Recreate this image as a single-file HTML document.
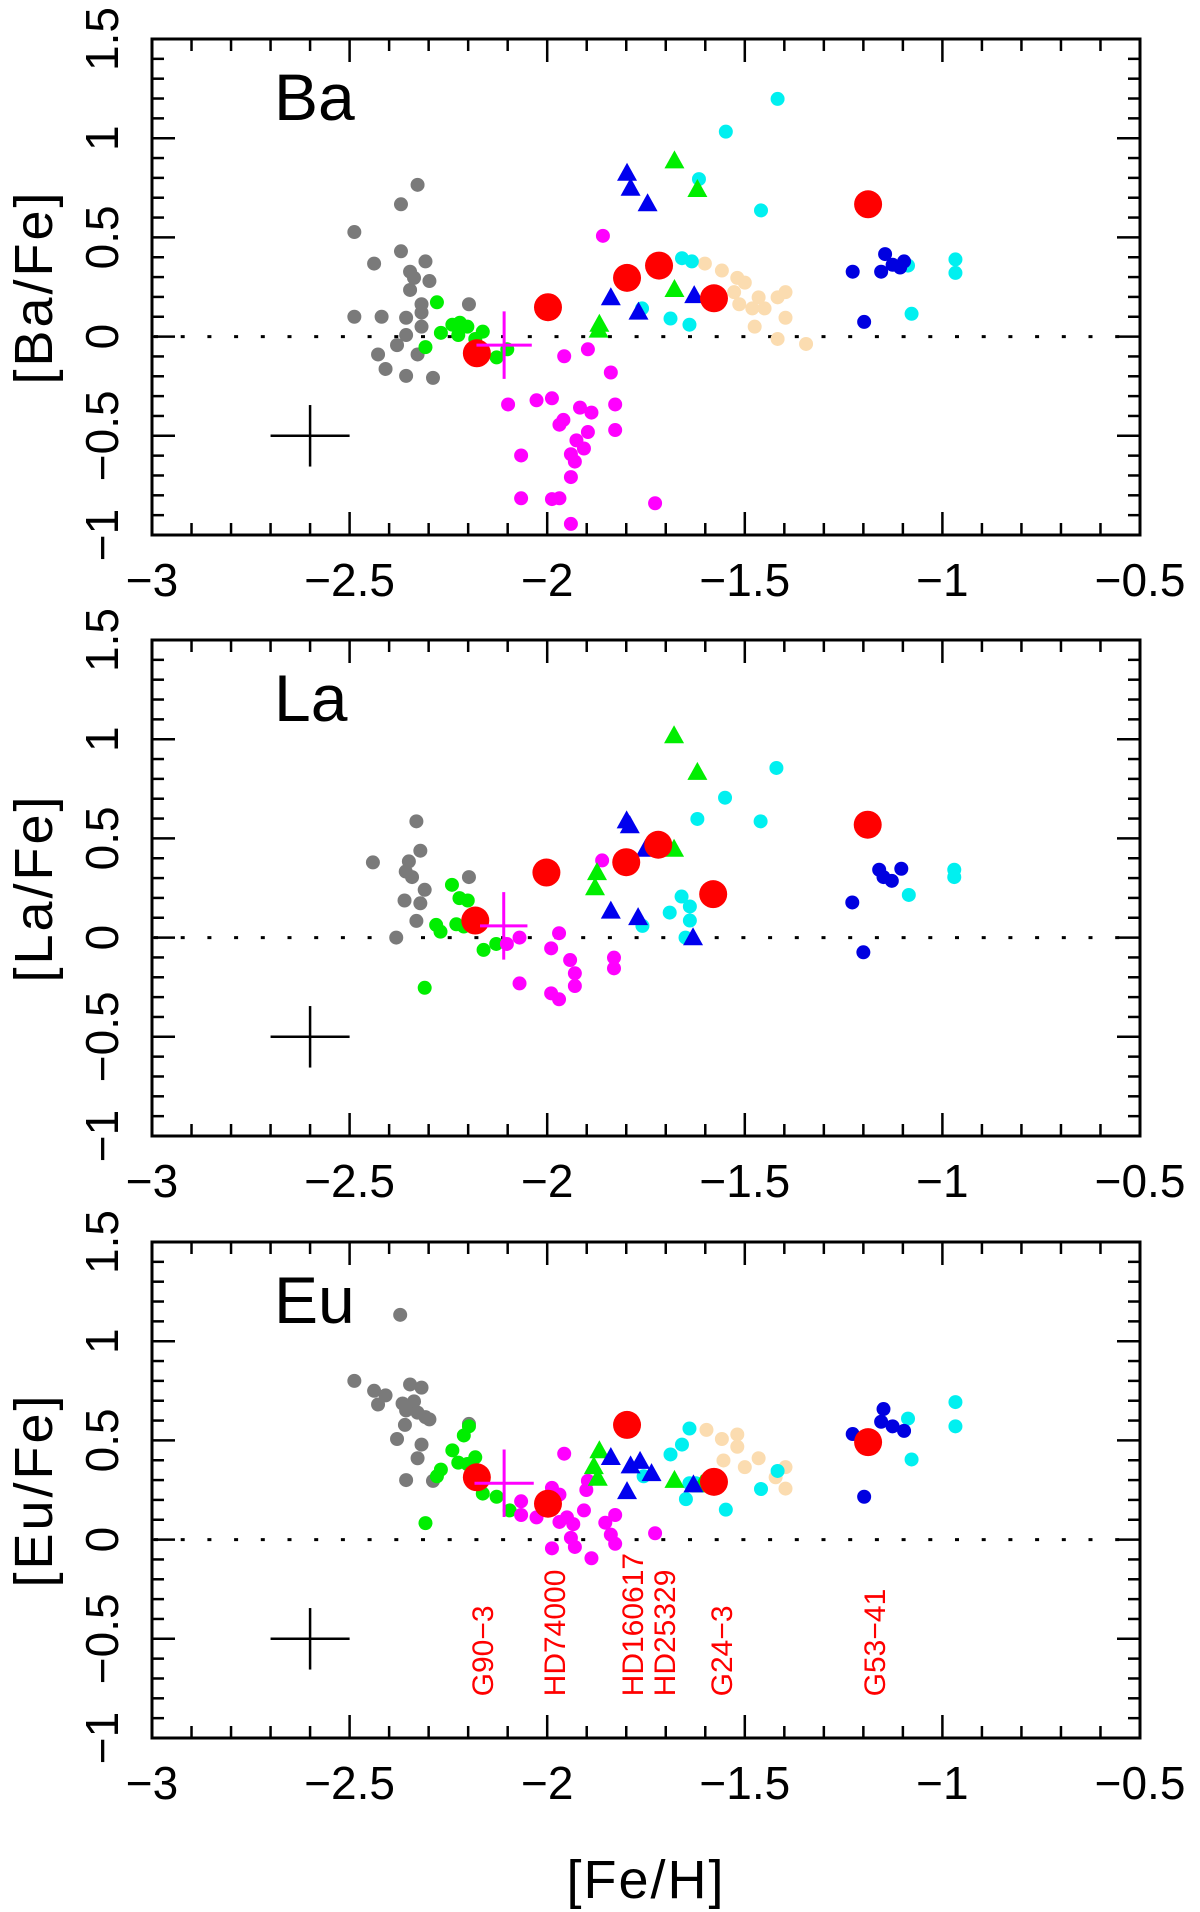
<!DOCTYPE html>
<html><head><meta charset="utf-8"><style>
html,body{margin:0;padding:0;background:#fff;}
svg{display:block;font-family:"Liberation Sans",sans-serif;}
</style></head><body>
<svg id="chart" width="1200" height="1912" viewBox="0 0 1200 1912" xmlns="http://www.w3.org/2000/svg"></svg>
<script>
// ---- Ba panel data ----
const baGrayX=[-2.328,-2.37,-2.488,-2.37,-2.438,-2.308,-2.347,-2.337,-2.298,-2.347,-2.318,-2.198,-2.318,-2.488,-2.419,-2.357,-2.318,-2.357,-2.38,-2.428,-2.328,-2.409,-2.357,-2.289];
const baGrayY=[0.765,0.667,0.527,0.43,0.368,0.379,0.327,0.296,0.28,0.235,0.163,0.163,0.121,0.1,0.1,0.095,0.05,0.008,-0.043,-0.09,-0.09,-0.163,-0.198,-0.208];
const baGreenX=[-2.279,-2.269,-2.24,-2.221,-2.225,-2.202,-2.163,-2.182,-2.308,-2.128,-2.101];
const baGreenY=[0.173,0.019,0.06,0.07,0.008,0.05,0.025,-0.012,-0.053,-0.105,-0.064];
const baMagX=[-1.859,-1.897,-1.957,-1.839,-2.099,-2.027,-1.988,-1.828,-1.917,-1.888,-1.959,-1.969,-1.828,-1.897,-1.926,-1.907,-2.066,-1.94,-1.93,-1.94,-2.066,-1.988,-1.969,-1.727,-1.94];
const baMagY=[0.508,-0.064,-0.099,-0.181,-0.342,-0.321,-0.311,-0.342,-0.358,-0.383,-0.42,-0.444,-0.471,-0.481,-0.523,-0.564,-0.599,-0.593,-0.63,-0.708,-0.815,-0.819,-0.815,-0.84,-0.944];
const baWheatX=[-1.601,-1.558,-1.519,-1.5,-1.527,-1.514,-1.465,-1.481,-1.45,-1.417,-1.397,-1.397,-1.475,-1.417,-1.345];
const baWheatY=[0.368,0.333,0.296,0.272,0.224,0.163,0.198,0.142,0.142,0.198,0.224,0.095,0.05,-0.012,-0.037];
const baCyanX=[-1.417,-1.548,-1.616,-1.459,-1.659,-1.634,-1.76,-1.688,-1.64,-1.087,-1.078,-0.967,-0.967];
const baCyanY=[1.198,1.033,0.794,0.636,0.395,0.379,0.142,0.091,0.06,0.358,0.115,0.389,0.321];
const baNavyX=[-1.227,-1.155,-1.145,-1.126,-1.097,-1.107,-1.198];
const baNavyY=[0.327,0.327,0.416,0.362,0.379,0.348,0.074];
const baBlueTriX=[-1.798,-1.789,-1.746,-1.839,-1.769,-1.628];
const baBlueTriY=[0.821,0.745,0.667,0.193,0.121,0.204];
const baGreenTriX=[-1.678,-1.62,-1.678,-1.868,-1.87];
const baGreenTriY=[0.883,0.739,0.235,0.06,0.03];
const baRedX=[-2.178,-1.998,-1.798,-1.717,-1.578,-1.188];
const baRedY=[-0.084,0.148,0.296,0.358,0.193,0.667];
const baMeanCross=[-2.109,-0.043,0.07,0.17];

// ---- La panel data ----
const laGrayX=[-2.331,-2.321,-2.441,-2.35,-2.358,-2.342,-2.198,-2.31,-2.361,-2.321,-2.331,-2.382];
const laGrayY=[0.586,0.438,0.379,0.384,0.333,0.305,0.305,0.241,0.187,0.173,0.084,0];
const laGreenX=[-2.241,-2.222,-2.201,-2.281,-2.27,-2.23,-2.211,-2.129,-2.161,-2.31];
const laGreenY=[0.266,0.199,0.187,0.064,0.03,0.067,0.056,-0.032,-0.062,-0.253];
const laMagX=[-1.861,-1.97,-2.07,-2.102,-1.99,-1.942,-1.831,-1.831,-1.93,-1.93,-2.07,-1.99,-1.97];
const laMagY=[0.389,0.022,0,-0.032,-0.054,-0.113,-0.101,-0.155,-0.18,-0.244,-0.231,-0.281,-0.311];
const laWheatX=[];
const laWheatY=[];
const laCyanX=[-1.42,-1.55,-1.62,-1.46,-1.66,-1.639,-1.69,-1.639,-1.759,-1.65,-1.085,-0.97,-0.97];
const laCyanY=[0.855,0.705,0.598,0.586,0.207,0.157,0.126,0.086,0.059,0,0.215,0.342,0.305];
const laNavyX=[-1.16,-1.104,-1.149,-1.128,-1.228,-1.2];
const laNavyY=[0.342,0.347,0.305,0.286,0.177,-0.074];
const laBlueTriX=[-1.799,-1.791,-1.751,-1.839,-1.77,-1.631];
const laBlueTriY=[0.586,0.561,0.443,0.131,0.098,-0.003];
const laGreenTriX=[-1.679,-1.62,-1.874,-1.879,-1.679];
const laGreenTriY=[1.015,0.83,0.325,0.249,0.443];
const laRedX=[-2.182,-2.002,-1.8,-1.719,-1.58,-1.189];
const laRedY=[0.086,0.328,0.38,0.468,0.219,0.569];
const laMeanCross=[-2.11,0.059,0.06,0.17];

// ---- Eu panel data ----
const euGrayX=[-2.372,-2.488,-2.438,-2.409,-2.428,-2.347,-2.318,-2.366,-2.337,-2.357,-2.328,-2.308,-2.298,-2.36,-2.198,-2.38,-2.318,-2.328,-2.357,-2.289];
const euGrayY=[1.133,0.8,0.75,0.727,0.681,0.782,0.766,0.686,0.697,0.651,0.64,0.617,0.606,0.578,0.583,0.507,0.479,0.41,0.3,0.296];
const euGreenX=[-2.198,-2.211,-2.24,-2.182,-2.225,-2.202,-2.269,-2.279,-2.163,-2.128,-2.095,-2.308];
const euGreenY=[0.571,0.525,0.45,0.415,0.388,0.381,0.353,0.319,0.232,0.216,0.147,0.083];
const euMagX=[-1.957,-1.988,-1.897,-1.901,-2.066,-2.027,-2.066,-1.969,-1.95,-1.934,-1.907,-1.969,-1.828,-1.853,-1.839,-1.828,-1.727,-1.94,-1.93,-1.988,-1.888];
const euMagY=[0.433,0.261,0.296,0.25,0.193,0.112,0.124,0.227,0.112,0.078,0.147,0.089,0.124,0.085,0.025,-0.021,0.032,0.009,-0.037,-0.044,-0.094];
const euWheatX=[-1.597,-1.558,-1.519,-1.519,-1.554,-1.5,-1.465,-1.397,-1.422,-1.397];
const euWheatY=[0.553,0.507,0.53,0.468,0.399,0.365,0.41,0.365,0.314,0.257];
const euCyanX=[-1.64,-1.659,-1.688,-1.756,-1.64,-1.624,-1.649,-1.548,-1.459,-1.417,-1.087,-1.078,-0.967,-0.967];
const euCyanY=[0.56,0.479,0.429,0.319,0.284,0.284,0.204,0.151,0.255,0.346,0.61,0.404,0.693,0.571];
const euNavyX=[-1.149,-1.155,-1.126,-1.097,-1.227,-1.198];
const euNavyY=[0.658,0.594,0.571,0.548,0.532,0.216];
const euBlueTriX=[-1.839,-1.789,-1.765,-1.736,-1.798,-1.63];
const euBlueTriY=[0.411,0.369,0.392,0.33,0.239,0.273];
const euGreenTriX=[-1.868,-1.882,-1.872,-1.678,-1.61];
const euGreenTriY=[0.445,0.365,0.307,0.296,0.273];
const euRedX=[-2.178,-1.998,-1.798,-1.578,-1.188];
const euRedY=[0.314,0.181,0.578,0.291,0.491];
const euMeanCross=[-2.109,0.284,0.075,0.17];
const starNames=["G90\u22123","HD74000","HD160617","HD25329","G24\u22123","G53\u221241"];
const starNameX=[-2.137,-1.955,-1.758,-1.677,-1.532,-1.145];
const starNameBottomY=-0.79;

const xTicks=[-3,-2.5,-2,-1.5,-1,-0.5];
const xTickLabels=["\u22123","\u22122.5","\u22122","\u22121.5","\u22121","\u22120.5"];
const yTicks=[1.5,1,0.5,0,-0.5,-1];
const yTickLabels=["1.5","1","0.5","0","\u22120.5","\u22121"];

const NS="http://www.w3.org/2000/svg";
const svg=document.getElementById('chart');
const L=152,R=1140,H=496;
const XMIN=-3,XMAX=-0.5,YMIN=-1,YMAX=1.5;
function sx(v){return L+(v-XMIN)/(XMAX-XMIN)*(R-L);}
function mk(tag,attrs,parent){const e=document.createElementNS(NS,tag);for(const k in attrs)e.setAttribute(k,attrs[k]);(parent||svg).appendChild(e);return e;}

function drawPanel(top,key,label,yTitle,d){
  const sy=v=>top+(YMAX-v)/(YMAX-YMIN)*H;
  const g=mk('g',{});
  
  
  // ticks
  const tg=mk('g',{stroke:'#000','stroke-width':2.5},g);
  
  
  for(let i=0;i<=25;i++){
    const v=XMIN+i*0.1, x=sx(v), len=(i%5===0)?23:12;
    mk('line',{x1:x,x2:x,y1:top+H,y2:top+H-len},tg);
    mk('line',{x1:x,x2:x,y1:top,y2:top+len},tg);
  }
  for(let i=0;i<=25;i++){
    const v=YMIN+i*0.1, y=sy(v), len=(i%5===0)?23:12;
    mk('line',{x1:L,x2:L+len,y1:y,y2:y},tg);
    mk('line',{x1:R,x2:R-len,y1:y,y2:y},tg);
  }
  // zero line
  const z=mk('line',{x1:L+2,x2:R,y1:sy(0),y2:sy(0),stroke:'#000','stroke-width':3,'stroke-dasharray':'4 22.7'},g);
  
  
  // tick labels
  xTicks.forEach((v,i)=>{
    const t=mk('text',{x:sx(v),y:top+H+61,'text-anchor':'middle','font-size':46,fill:'#000'},g);
    t.textContent=xTickLabels[i];
    
    
  });
  yTicks.forEach((v,i)=>{
    const t=mk('text',{transform:`translate(118,${sy(v)}) rotate(-90)`,'text-anchor':'middle','font-size':46,fill:'#000'},g);
    t.textContent=yTickLabels[i];
    
    
  });
  const yt=mk('text',{transform:`translate(52,${top+H/2}) rotate(-90)`,'text-anchor':'middle','font-size':54,'letter-spacing':3,fill:'#000'},g);
  yt.textContent=yTitle;
  
  
  const pl=mk('text',{x:274,y:top+81,'font-size':66,fill:'#000'},g);
  pl.textContent=label;
  
  
  // points
  function circles(xs,ys,col,r,name){
    const sg=mk('g',{fill:col},g);
    
    
    xs.forEach((v,i)=>{
      const c=mk('circle',{cx:sx(v),cy:sy(ys[i]),r:r},sg);
      
      
    });
  }
  function tris(xs,ys,col,name){
    const sg=mk('g',{fill:col},g);
    
    
    xs.forEach((v,i)=>{
      const x=sx(v),y=sy(ys[i]);
      const p=mk('polygon',{points:`${x-10},${y+7} ${x+10},${y+7} ${x},${y-11}`},sg);
      
      
    });
  }
  circles(d.grayX,d.grayY,'#7a7a7a',7,'gray');
  circles(d.greenX,d.greenY,'#00ee00',7,'green');
  circles(d.magX,d.magY,'#ff00ff',7,'magenta');
  circles(d.wheatX,d.wheatY,'#fbdcb0',7,'wheat');
  circles(d.cyanX,d.cyanY,'#00f0f0',7,'cyan');
  circles(d.navyX,d.navyY,'#0000e0',7,'navy');
  tris(d.gtX,d.gtY,'#00ee00','green-triangle');
  tris(d.btX,d.btY,'#0000ee','blue-triangle');
  circles(d.redX,d.redY,'#ff0000',14,'red');
  // crosses
  const mc=d.mean;
  const cg=mk('g',{stroke:'#ff00ff','stroke-width':3},g);
  
  
  mk('line',{x1:sx(mc[0]-mc[2]),x2:sx(mc[0]+mc[2]),y1:sy(mc[1]),y2:sy(mc[1])},cg);
  mk('line',{x1:sx(mc[0]),x2:sx(mc[0]),y1:sy(mc[1]-mc[3]),y2:sy(mc[1]+mc[3])},cg);
  const eg=mk('g',{stroke:'#000','stroke-width':2.5},g);
  
  
  mk('line',{x1:sx(-2.7),x2:sx(-2.5),y1:sy(-0.5),y2:sy(-0.5)},eg);
  mk('line',{x1:sx(-2.6),x2:sx(-2.6),y1:sy(-0.655),y2:sy(-0.345)},eg);
  // frame
  const fr=mk('rect',{x:L,y:top,width:R-L,height:H,fill:'none',stroke:'#000','stroke-width':3},g);
  
  
  return sy;
}

drawPanel(39,'ba','Ba','[Ba/Fe]',{grayX:baGrayX,grayY:baGrayY,greenX:baGreenX,greenY:baGreenY,magX:baMagX,magY:baMagY,wheatX:baWheatX,wheatY:baWheatY,cyanX:baCyanX,cyanY:baCyanY,navyX:baNavyX,navyY:baNavyY,gtX:baGreenTriX,gtY:baGreenTriY,btX:baBlueTriX,btY:baBlueTriY,redX:baRedX,redY:baRedY,mean:baMeanCross});
drawPanel(640,'la','La','[La/Fe]',{grayX:laGrayX,grayY:laGrayY,greenX:laGreenX,greenY:laGreenY,magX:laMagX,magY:laMagY,wheatX:laWheatX,wheatY:laWheatY,cyanX:laCyanX,cyanY:laCyanY,navyX:laNavyX,navyY:laNavyY,gtX:laGreenTriX,gtY:laGreenTriY,btX:laBlueTriX,btY:laBlueTriY,redX:laRedX,redY:laRedY,mean:laMeanCross});
const euSy=drawPanel(1242,'eu','Eu','[Eu/Fe]',{grayX:euGrayX,grayY:euGrayY,greenX:euGreenX,greenY:euGreenY,magX:euMagX,magY:euMagY,wheatX:euWheatX,wheatY:euWheatY,cyanX:euCyanX,cyanY:euCyanY,navyX:euNavyX,navyY:euNavyY,gtX:euGreenTriX,gtY:euGreenTriY,btX:euBlueTriX,btY:euBlueTriY,redX:euRedX,redY:euRedY,mean:euMeanCross});

starNames.forEach((n,i)=>{
  const t=mk('text',{transform:`translate(${sx(starNameX[i])},${euSy(starNameBottomY)}) rotate(-90)`,'font-size':30,fill:'#ff0000'});
  t.textContent=n;
  
  
});
const xt=mk('text',{x:646,y:1898,'text-anchor':'middle','font-size':54,'letter-spacing':2,fill:'#000'});
xt.textContent='[Fe/H]';


</script>
</body></html>
